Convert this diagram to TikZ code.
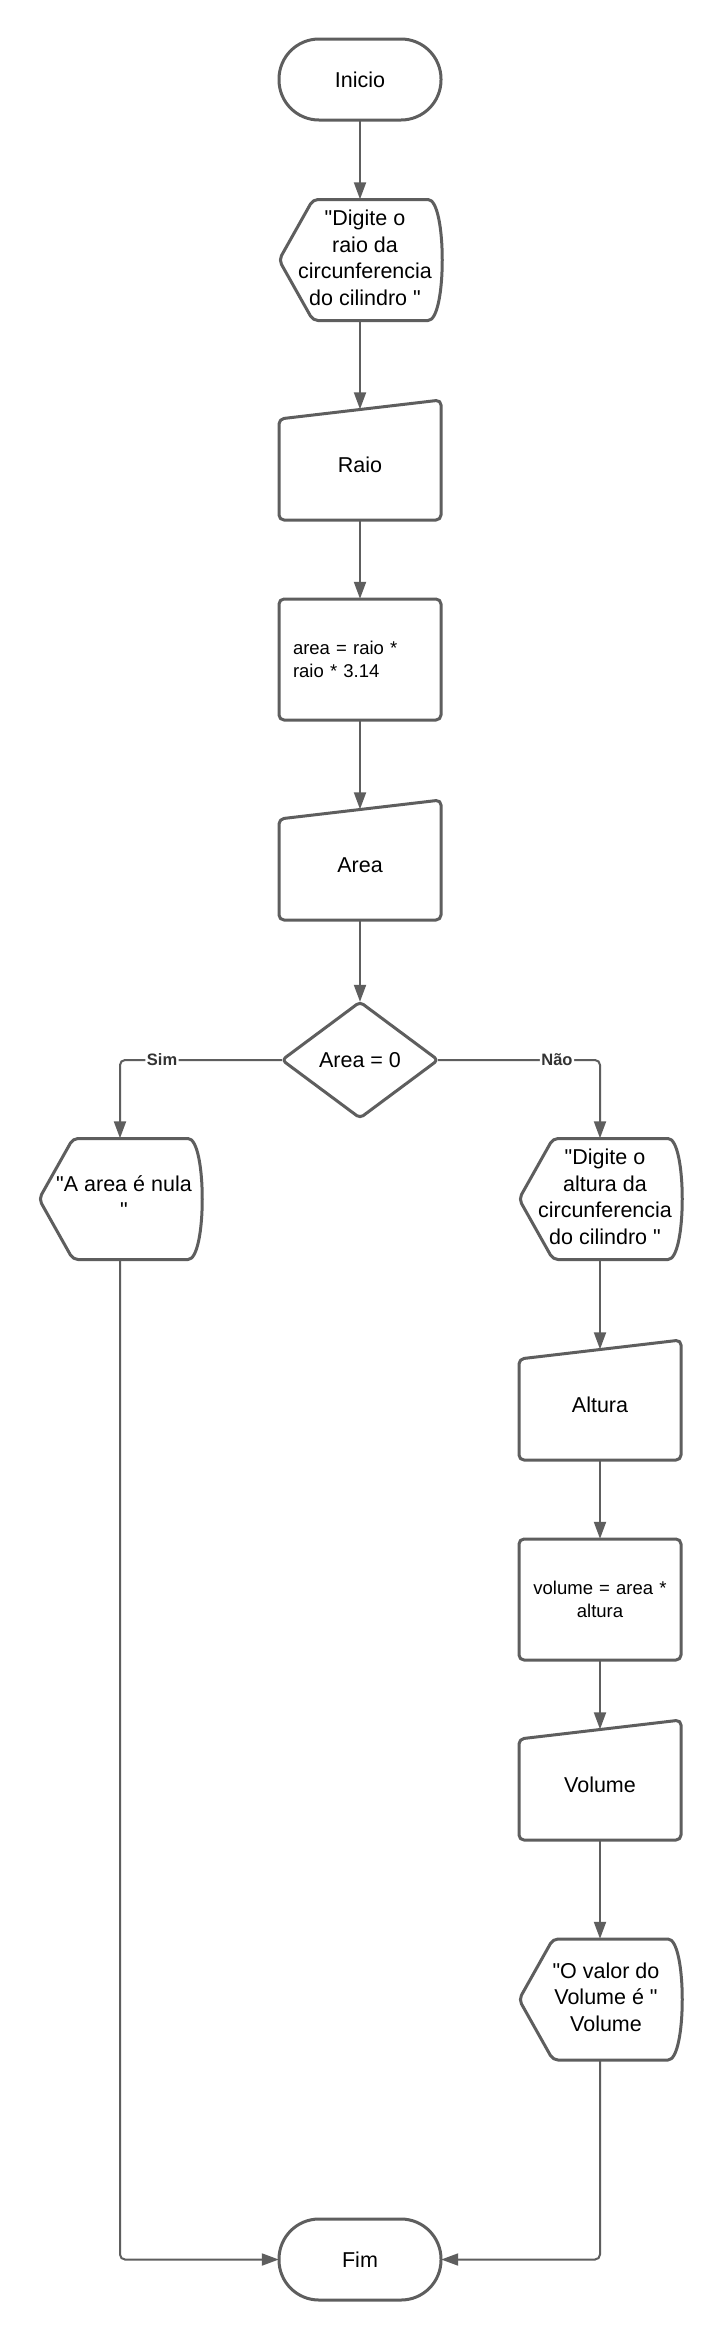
\documentclass[tikz,border=0pt]{standalone}
\usepackage{fontspec}
\setmainfont{Liberation Sans}[Ligatures=TeXOff]
\usetikzlibrary{arrows.meta}
\definecolor{ln}{RGB}{94,94,94}
\definecolor{lbl}{RGB}{51,51,51}
\tikzset{
  shapeline/.style={draw=ln, line width=3pt, fill=white, line join=round},
  conn/.style={draw=ln, line width=2pt, rounded corners=5pt, -{Triangle[length=17pt,width=12pt]}},
  anc/.style={inner sep=0pt, minimum width=162pt, text=black, font=\fontsize{21.5}{26.5}\selectfont},
  proc/.style={anc, minimum height=121pt, text width=134pt, inner xsep=14pt, font=\fontsize{18.5}{23}\selectfont},
  lab/.style={fill=white, text=lbl, inner sep=1.5pt, font=\fontsize{16.5}{20}\selectfont\bfseries},
  termshape/.pic={\path[shapeline, rounded corners=40pt] (-81,-40.5) rectangle (81,40.5);},
  dispshape/.pic={\path[shapeline, rounded corners=5pt] (63,60.5) .. controls (87,60.5) and (87,-60.5) .. (63,-60.5) -- (-47,-60.5) -- (-81,0) -- (-47,60.5) -- cycle;},
  manshape/.pic={\path[shapeline, rounded corners=5pt] (-81,-45.75) -- (81,-64.75) -- (81,55.25) -- (-81,55.25) -- cycle;},
  procshape/.pic={\path[shapeline, rounded corners=5pt] (-81,-60.5) rectangle (81,60.5);},
  decshape/.pic={\path[shapeline, rounded corners=4pt] (-78,0) -- (0,-58) -- (78,0) -- (0,58) -- cycle;}
}
\newcommand{\disptext}[2]{\hspace*{#1}\begin{tabular}{@{}c@{}}#2\end{tabular}}
\begin{document}
\begin{tikzpicture}[x=1pt,y=-1pt]
\useasboundingbox (0,0) rectangle (720,2340);
\fill[white] (0,0) rectangle (720,2340);

% shapes
\pic at (360,79.5) {termshape};
\pic at (360,260) {dispshape};
\pic at (360,464.75) {manshape};
\pic at (360,659.5) {procshape};
\pic at (360,864.75) {manshape};
\pic at (360,1060) {decshape};
\pic at (120,1199) {dispshape};
\pic at (600,1199) {dispshape};
\pic at (600,1404.75) {manshape};
\pic at (600,1599.5) {procshape};
\pic at (600,1784.75) {manshape};
\pic at (600,1999.5) {dispshape};
\pic at (360,2259.5) {termshape};

% nodes
\node[anc, minimum height=81pt] (inicio) at (360,79.5) {Inicio};
\node[anc, minimum height=121pt] (disp1) at (360,260) {\disptext{10pt}{"Digite o\\raio da\\circunferencia\\do cilindro "}};
\node[anc, minimum height=110.5pt] (raio) at (360,464.75) {Raio};
\node[proc, align=left] (calc1) at (360,659.5) {area = raio *\\raio * 3.14};
\node[anc, minimum height=110.5pt] (area) at (360,864.75) {Area};
\node[anc, minimum width=156pt, minimum height=116pt] (dec) at (360,1060) {Area = 0};
\node[anc, minimum height=121pt] (nula) at (120,1199) {\disptext{8pt}{"A area é nula\\"}};
\node[anc, minimum height=121pt] (disp2) at (600,1199) {\disptext{10pt}{"Digite o\\altura da\\circunferencia\\do cilindro "}};
\node[anc, minimum height=110.5pt] (altura) at (600,1404.75) {Altura};
\node[proc, align=center] (calc2) at (600,1599.5) {volume = area *\\altura};
\node[anc, minimum height=110.5pt] (volume) at (600,1784.75) {Volume};
\node[anc, minimum height=121pt] (out) at (600,1999.5) {\disptext{12pt}{"O valor do\\Volume é "\\Volume}};
\node[anc, minimum height=81pt] (fim) at (360,2259.5) {Fim};

% connectors
\draw[conn] (inicio.south) -- (disp1.north);
\draw[conn] (disp1.south) -- (raio.north);
\draw[conn] (raio.south) -- (calc1.north);
\draw[conn] (calc1.south) -- (area.north);
\draw[conn] (area.south) -- (dec.north);
\draw[conn] (dec.west) -| node[lab, pos=0.37] {Sim} (nula.north);
\draw[conn] (dec.east) -| node[lab, pos=0.367] {Não} (disp2.north);
\draw[conn] (disp2.south) -- (altura.north);
\draw[conn] (altura.south) -- (calc2.north);
\draw[conn] (calc2.south) -- (volume.north);
\draw[conn] (volume.south) -- (out.north);
\draw[conn] (nula.south) |- (fim.west);
\draw[conn] (out.south) |- (fim.east);
\end{tikzpicture}
\end{document}
